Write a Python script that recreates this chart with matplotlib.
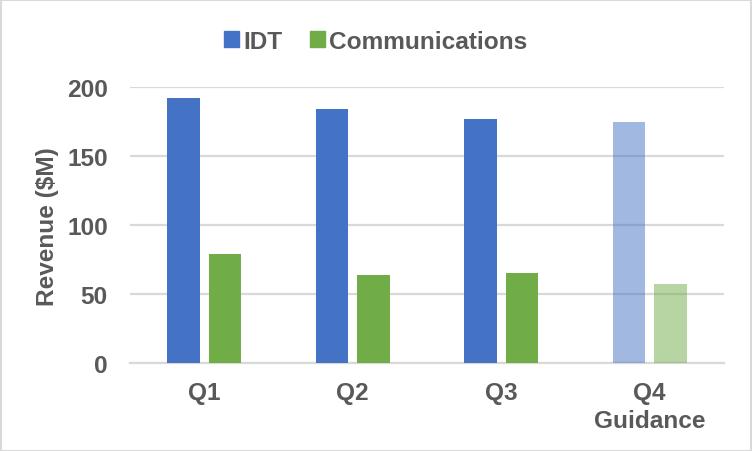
import matplotlib
matplotlib.use("Agg")
import matplotlib.pyplot as plt
from matplotlib.patches import Rectangle, Patch
import numpy as np

# === DATA ===
quarters = ["Q1", "Q2", "Q3", "Q4\nGuidance"]
idt = [192, 184, 177, 175]
comms = [79, 64, 65, 57]
is_guidance = [False, False, False, True]

# === STYLE ===
BLUE = "#4472C4"
GREEN = "#70AD47"
TXT = "#595959"
GRID = "#D9D9D9"
FS = 17.6

plt.rcParams["font.family"] = ["Liberation Sans", "DejaVu Sans"]
plt.rcParams["font.weight"] = "bold"

fig = plt.figure(figsize=(7.52, 4.52), dpi=100)
ax = fig.add_axes([130 / 752, 1 - 364 / 452, 594 / 752, (364 - 88.3) / 452])

x = np.arange(len(quarters))
w = 0.22
off = 0.14
for i in range(len(quarters)):
    a = 0.5 if is_guidance[i] else 1.0
    ax.bar(x[i] - off, idt[i], w, color=BLUE, alpha=a, zorder=3)
    ax.bar(x[i] + off, comms[i], w, color=GREEN, alpha=a, zorder=3)

ax.set_xlim(-0.5, len(quarters) - 0.5)
ax.set_ylim(0, 200)
ax.set_yticks([0, 50, 100, 150, 200])
ax.yaxis.grid(True, color=GRID, linewidth=1.6, zorder=0)
ax.set_axisbelow(True)
for s in ["top", "right", "left"]:
    ax.spines[s].set_visible(False)
ax.spines["bottom"].set_color(GRID)
ax.spines["bottom"].set_linewidth(1.6)

ax.set_xticks(x)
ax.set_xticklabels(quarters, linespacing=1.3)
ax.tick_params(axis="x", length=0, pad=13, labelsize=FS, labelcolor=TXT)
ax.tick_params(axis="y", length=0, pad=16, labelsize=FS, labelcolor=TXT)

ax.set_ylabel("Revenue ($M)", fontsize=FS, color=TXT, fontweight="bold")
ax.yaxis.set_label_coords(-0.12, 0.497)

handles = [Patch(color=BLUE, label="IDT"), Patch(color=GREEN, label="Communications")]
fig.legend(handles=handles, loc="center", bbox_to_anchor=(0.5, 0.907), ncol=2,
           frameon=False, fontsize=FS, labelcolor=TXT,
           handlelength=0.6, handleheight=0.6, handletextpad=0.2, columnspacing=1.1)

# light outer border
fig.patches.append(Rectangle((0.001, 0.001), 0.998, 0.997, transform=fig.transFigure,
                             fill=False, edgecolor=GRID, linewidth=1.5))

fig.savefig("out.png", dpi=100, facecolor="white")
